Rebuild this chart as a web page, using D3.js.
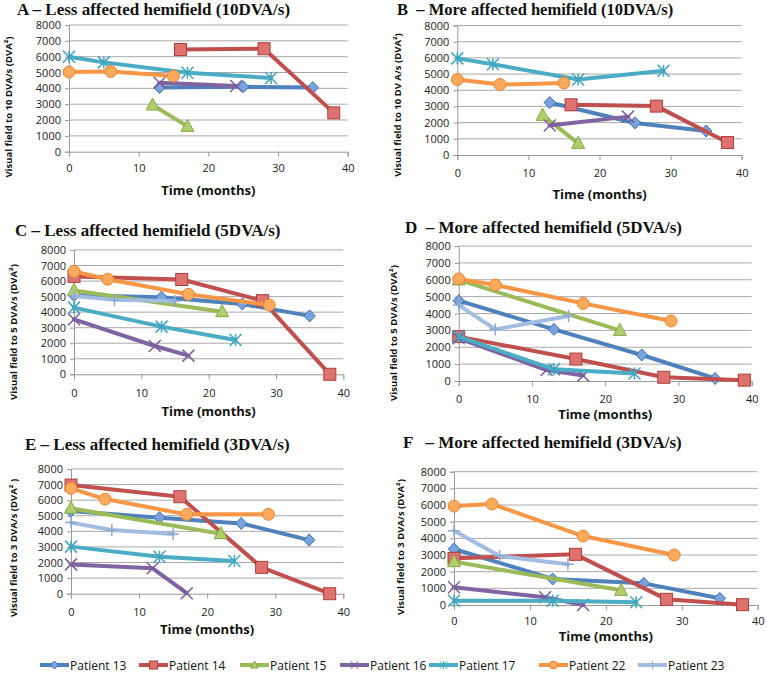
<!DOCTYPE html>
<html><head><meta charset="utf-8">
<script src="https://cdn.jsdelivr.net/npm/d3@7"></script>
<style>
html,body{margin:0;padding:0;background:#fff;}
svg{display:block;}
.title{font-family:"Liberation Serif","Times New Roman",serif;font-weight:bold;font-size:17px;fill:#111;white-space:pre;}
.tick{font-family:"Open Sans",sans-serif;font-size:11px;fill:#222;}
.axt{font-family:"Open Sans",sans-serif;font-weight:bold;font-size:13px;fill:#111;}
.ylab{font-family:"Open Sans",sans-serif;font-weight:bold;font-size:9.5px;fill:#111;}
.leg{font-family:"Open Sans",sans-serif;font-size:12px;fill:#111;}
</style></head>
<body><svg id="c" width="767" height="673"></svg>
<script>
// ---- data ----
const patients = ["Patient 13","Patient 14","Patient 15","Patient 16","Patient 17","Patient 22","Patient 23"];
const yTicks = [0,1000,2000,3000,4000,5000,6000,7000,8000];
const xTicks = [0,10,20,30,40];

// Each series: patient index, months, values (DVA²)
const seriesA = [
  {p:0, t:[13,25,35], v:[4050,4100,4050]},
  {p:1, t:[16,28,38], v:[6450,6500,2450]},
  {p:2, t:[12,17], v:[2950,1600]},
  {p:3, t:[13,24], v:[4350,4150]},
  {p:4, t:[0,5,17,29], v:[6000,5640,4990,4650]},
  {p:5, t:[0,6,15], v:[5030,5070,4780]}
];
const seriesB = [
  {p:0, t:[13,25,35], v:[3240,1980,1480]},
  {p:1, t:[16,28,38], v:[3100,3020,770]},
  {p:2, t:[12,17], v:[2450,720]},
  {p:3, t:[13,24], v:[1820,2370]},
  {p:4, t:[0,5,17,29], v:[5970,5610,4660,5200]},
  {p:5, t:[0,6,15], v:[4660,4350,4450]}
];
const seriesC = [
  {p:0, t:[0,13,25,35], v:[5080,4960,4530,3760]},
  {p:1, t:[0,16,28,38], v:[6300,6100,4740,0]},
  {p:2, t:[0,22], v:[5400,4030]},
  {p:3, t:[0,12,17], v:[3540,1820,1200]},
  {p:4, t:[0,13,24], v:[4290,3070,2210]},
  {p:5, t:[0,5,17,29], v:[6620,6120,5150,4460]},
  {p:6, t:[0,6,15], v:[5040,4790,4720]}
];
const seriesD = [
  {p:0, t:[0,13,25,35], v:[4760,3060,1540,150]},
  {p:1, t:[0,16,28,39], v:[2630,1300,220,50]},
  {p:2, t:[0,22], v:[5990,3000]},
  {p:3, t:[0,12,17], v:[2530,650,320]},
  {p:4, t:[0,13,24], v:[2630,690,450]},
  {p:5, t:[0,5,17,29], v:[6050,5690,4600,3560]},
  {p:6, t:[0,5,15], v:[4500,3060,3850]}
];
const seriesE = [
  {p:0, t:[0,13,25,35], v:[5300,4880,4510,3440]},
  {p:1, t:[0,16,28,38], v:[6970,6220,1690,0]},
  {p:2, t:[0,22], v:[5480,3850]},
  {p:3, t:[0,12,17], v:[1880,1630,30]},
  {p:4, t:[0,13,24], v:[3020,2370,2100]},
  {p:5, t:[0,5,17,29], v:[6760,6070,5090,5090]},
  {p:6, t:[0,6,15], v:[4560,4090,3830]}
];
const seriesF = [
  {p:0, t:[0,13,25,35], v:[3360,1560,1300,400]},
  {p:1, t:[0,16,28,38], v:[2800,3040,340,20]},
  {p:2, t:[0,22], v:[2600,880]},
  {p:3, t:[0,12,17], v:[1060,460,0]},
  {p:4, t:[0,13,24], v:[260,260,160]},
  {p:5, t:[0,5,17,29], v:[5940,6060,4140,3000]},
  {p:6, t:[0,6,15], v:[4460,2940,2440]}
];

const titles = ["A \u2013 Less affected hemifield (10DVA/s)","B  \u2013 More affected hemifield (10DVA/s)",
  "C \u2013 Less affected hemifield (5DVA/s)","D  \u2013 More affected hemifield (5DVA/s)",
  "E \u2013 Less affected hemifield (3DVA/s)","F   \u2013 More affected hemifield (3DVA/s)"];
const yLabels = ["Visual field to 10 DVA/s (DVA\u00b2)","Visual field to 10 DV A/s (DVA\u00b2)",
  "Visual field to 5 DVA/s (DVA\u00b2)","Visual field to 5 DVA/s (DVA\u00b2)",
  "Visual field to 3 DVA/s (DVA\u00b2 )","Visual field to 3 DVA/s (DVA\u00b2)"];
const xLabel = "Time (months)";

// ---- styles ----
const lineCol = ["#4f81bd","#c0504d","#9bbb59","#8064a2","#4bacc6","#f79646","#a3bce2"];
const mFill   = ["#79a3dc","#de726e","#b0cf6c","#8064a2","#4bacc6","#fbaa5c","#a3bce2"];
const mStroke = ["#3e6fb2","#ad3f3c","#86a646","#7a5e9c","#42a3bd","#e6873a","#8fa9d4"];
const marker  = ["diamond","square","triangle","x","star","circle","plus"];

// ---- layout ----
const layout = [
  {s:seriesA, x0:69,   x1:347.7, y0:151.7, y1:25,    tx:17,  ty:14.5, fs:17, lx:9,   ly:107, xtY:172, tmY:195},
  {s:seriesB, x0:457.3,x1:741.7, y0:155,   y1:25.5,  tx:397, ty:14.5, fs:16.5, lx:398, ly:105, xtY:177, tmY:199},
  {s:seriesC, x0:74,   x1:343.3, y0:374.3, y1:250,   tx:15,  ty:235.5,fs:17, lx:14,  ly:332, xtY:397, tmY:416},
  {s:seriesD, x0:458.7,x1:751.7, y0:381,   y1:246,   tx:405, ty:233,  fs:17, lx:394, ly:333, xtY:403, tmY:419},
  {s:seriesE, x0:71,   x1:343.3, y0:593.7, y1:469,   tx:25,  ty:450,  fs:17, lx:14,  ly:548, xtY:616, tmY:634},
  {s:seriesF, x0:454,  x1:757.7, y0:605,   y1:471.7, tx:403, ty:448,  fs:17, lx:401, ly:547, xtY:625, tmY:641}
];

const svg = d3.select("#c");

function drawMarker(g, type, i, x, y) {
  const r = 6;
  if (type==="diamond") {
    g.append("path").attr("d",`M${x},${y-r}L${x+r*0.95},${y}L${x},${y+r}L${x-r*0.95},${y}Z`)
      .attr("fill",mFill[i]).attr("stroke",mStroke[i]).attr("stroke-width",1);
  } else if (type==="square") {
    g.append("rect").attr("x",x-r).attr("y",y-r).attr("width",2*r).attr("height",2*r)
      .attr("fill",mFill[i]).attr("stroke",mStroke[i]).attr("stroke-width",1);
  } else if (type==="triangle") {
    g.append("path").attr("d",`M${x},${y-r-1}L${x+r+0.5},${y+r-1}L${x-r-0.5},${y+r-1}Z`)
      .attr("fill",mFill[i]).attr("stroke",mStroke[i]).attr("stroke-width",1);
  } else if (type==="circle") {
    g.append("circle").attr("cx",x).attr("cy",y).attr("r",r)
      .attr("fill",mFill[i]).attr("stroke",mStroke[i]).attr("stroke-width",1);
  } else if (type==="x") {
    g.append("path").attr("d",`M${x-r},${y-r}L${x+r},${y+r}M${x-r},${y+r}L${x+r},${y-r}`)
      .attr("stroke",mStroke[i]).attr("stroke-width",1.5).attr("fill","none");
  } else if (type==="star") {
    g.append("path").attr("d",`M${x-r},${y-r}L${x+r},${y+r}M${x-r},${y+r}L${x+r},${y-r}M${x},${y-r}L${x},${y+r}`)
      .attr("stroke",mStroke[i]).attr("stroke-width",1.5).attr("fill","none");
  } else if (type==="plus") {
    g.append("path").attr("d",`M${x},${y-r}L${x},${y+r}M${x-r},${y}L${x+r},${y}`)
      .attr("stroke",mStroke[i]).attr("stroke-width",1.5).attr("fill","none");
  }
}

layout.forEach((L, k) => {
  const x = d3.scaleLinear().domain([0,40]).range([L.x0, L.x1]);
  const y = d3.scaleLinear().domain([0,8000]).range([L.y0, L.y1]);
  const g = svg.append("g");

  // grid
  g.selectAll(".grid").data(yTicks.filter(d=>d>0)).join("line")
    .attr("x1",L.x0).attr("x2",L.x1).attr("y1",d=>y(d)).attr("y2",d=>y(d))
    .attr("stroke","#a9a9a9").attr("stroke-width",1);

  // y axis
  const ya = g.append("g").attr("transform",`translate(${L.x0},0)`)
    .call(d3.axisLeft(y).tickValues(yTicks).tickSize(4).tickPadding(4).tickFormat(d3.format("d")));
  ya.select(".domain").attr("stroke","#999");
  ya.selectAll(".tick line").attr("stroke","#999");
  ya.selectAll("text").attr("class","tick").attr("font-family",null).attr("font-size",null).attr("fill",null);

  // x axis
  const xa = g.append("g").attr("transform",`translate(0,${L.y0})`)
    .call(d3.axisBottom(x).tickValues(xTicks).tickSize(5).tickFormat(d3.format("d")));
  xa.select(".domain").attr("stroke","#999");
  xa.selectAll(".tick line").attr("stroke","#999");
  xa.selectAll("text").attr("class","tick").attr("font-family",null).attr("font-size",null).attr("fill",null)
    .attr("dy",null).attr("y", L.xtY - L.y0);

  // series
  const line = d3.line().x(d=>x(d[0])).y(d=>y(d[1]));
  L.s.forEach(s => {
    const pts = s.t.map((t,j)=>[t, s.v[j]]);
    g.append("path").attr("d", line(pts)).attr("fill","none")
      .attr("stroke", lineCol[s.p]).attr("stroke-width",4)
      .attr("stroke-linejoin","round").attr("stroke-linecap","round");
    pts.forEach(p => drawMarker(g, marker[s.p], s.p, x(p[0]), y(p[1])));
  });

  // titles
  svg.append("text").attr("class","title").attr("x",L.tx).attr("y",L.ty)
    .style("font-size", L.fs + "px").text(titles[k]);
  svg.append("text").attr("class","axt").attr("x",(L.x0+L.x1)/2).attr("y",L.tmY)
    .attr("text-anchor","middle").text(xLabel);
  svg.append("text").attr("class","ylab").attr("transform",`translate(${L.lx},${L.ly}) rotate(-90)`)
    .attr("text-anchor","middle").attr("dominant-baseline","middle").text(yLabels[k]);
});

// legend
const legX = [40,139,240,340,429,539,638];
const legY = 665;
patients.forEach((p,i) => {
  const g = svg.append("g");
  g.append("line").attr("x1",legX[i]).attr("x2",legX[i]+29).attr("y1",legY).attr("y2",legY)
    .attr("stroke",lineCol[i]).attr("stroke-width",4);
  const mx = legX[i]+14.5;
  const r = 4;
  if (marker[i]==="diamond") g.append("path").attr("d",`M${mx},${legY-r}L${mx+r},${legY}L${mx},${legY+r}L${mx-r},${legY}Z`).attr("fill",mFill[i]).attr("stroke",mStroke[i]);
  else if (marker[i]==="square") g.append("rect").attr("x",mx-r).attr("y",legY-r).attr("width",2*r).attr("height",2*r).attr("fill",mFill[i]).attr("stroke",mStroke[i]);
  else if (marker[i]==="triangle") g.append("path").attr("d",`M${mx},${legY-r}L${mx+r},${legY+r-1}L${mx-r},${legY+r-1}Z`).attr("fill",mFill[i]).attr("stroke",mStroke[i]);
  else if (marker[i]==="circle") g.append("circle").attr("cx",mx).attr("cy",legY).attr("r",r).attr("fill",mFill[i]).attr("stroke",mStroke[i]);
  else if (marker[i]==="x") g.append("path").attr("d",`M${mx-r},${legY-r}L${mx+r},${legY+r}M${mx-r},${legY+r}L${mx+r},${legY-r}`).attr("stroke",mStroke[i]).attr("stroke-width",1);
  else if (marker[i]==="star") g.append("path").attr("d",`M${mx-r},${legY-r}L${mx+r},${legY+r}M${mx-r},${legY+r}L${mx+r},${legY-r}M${mx},${legY-r}L${mx},${legY+r}`).attr("stroke",mStroke[i]).attr("stroke-width",1);
  else if (marker[i]==="plus") g.append("path").attr("d",`M${mx},${legY-r}L${mx},${legY+r}`).attr("stroke",mStroke[i]).attr("stroke-width",1);
  g.append("text").attr("class","leg").attr("x",legX[i]+30).attr("y",legY).attr("dominant-baseline","central").text(p);
});
</script></body></html>
